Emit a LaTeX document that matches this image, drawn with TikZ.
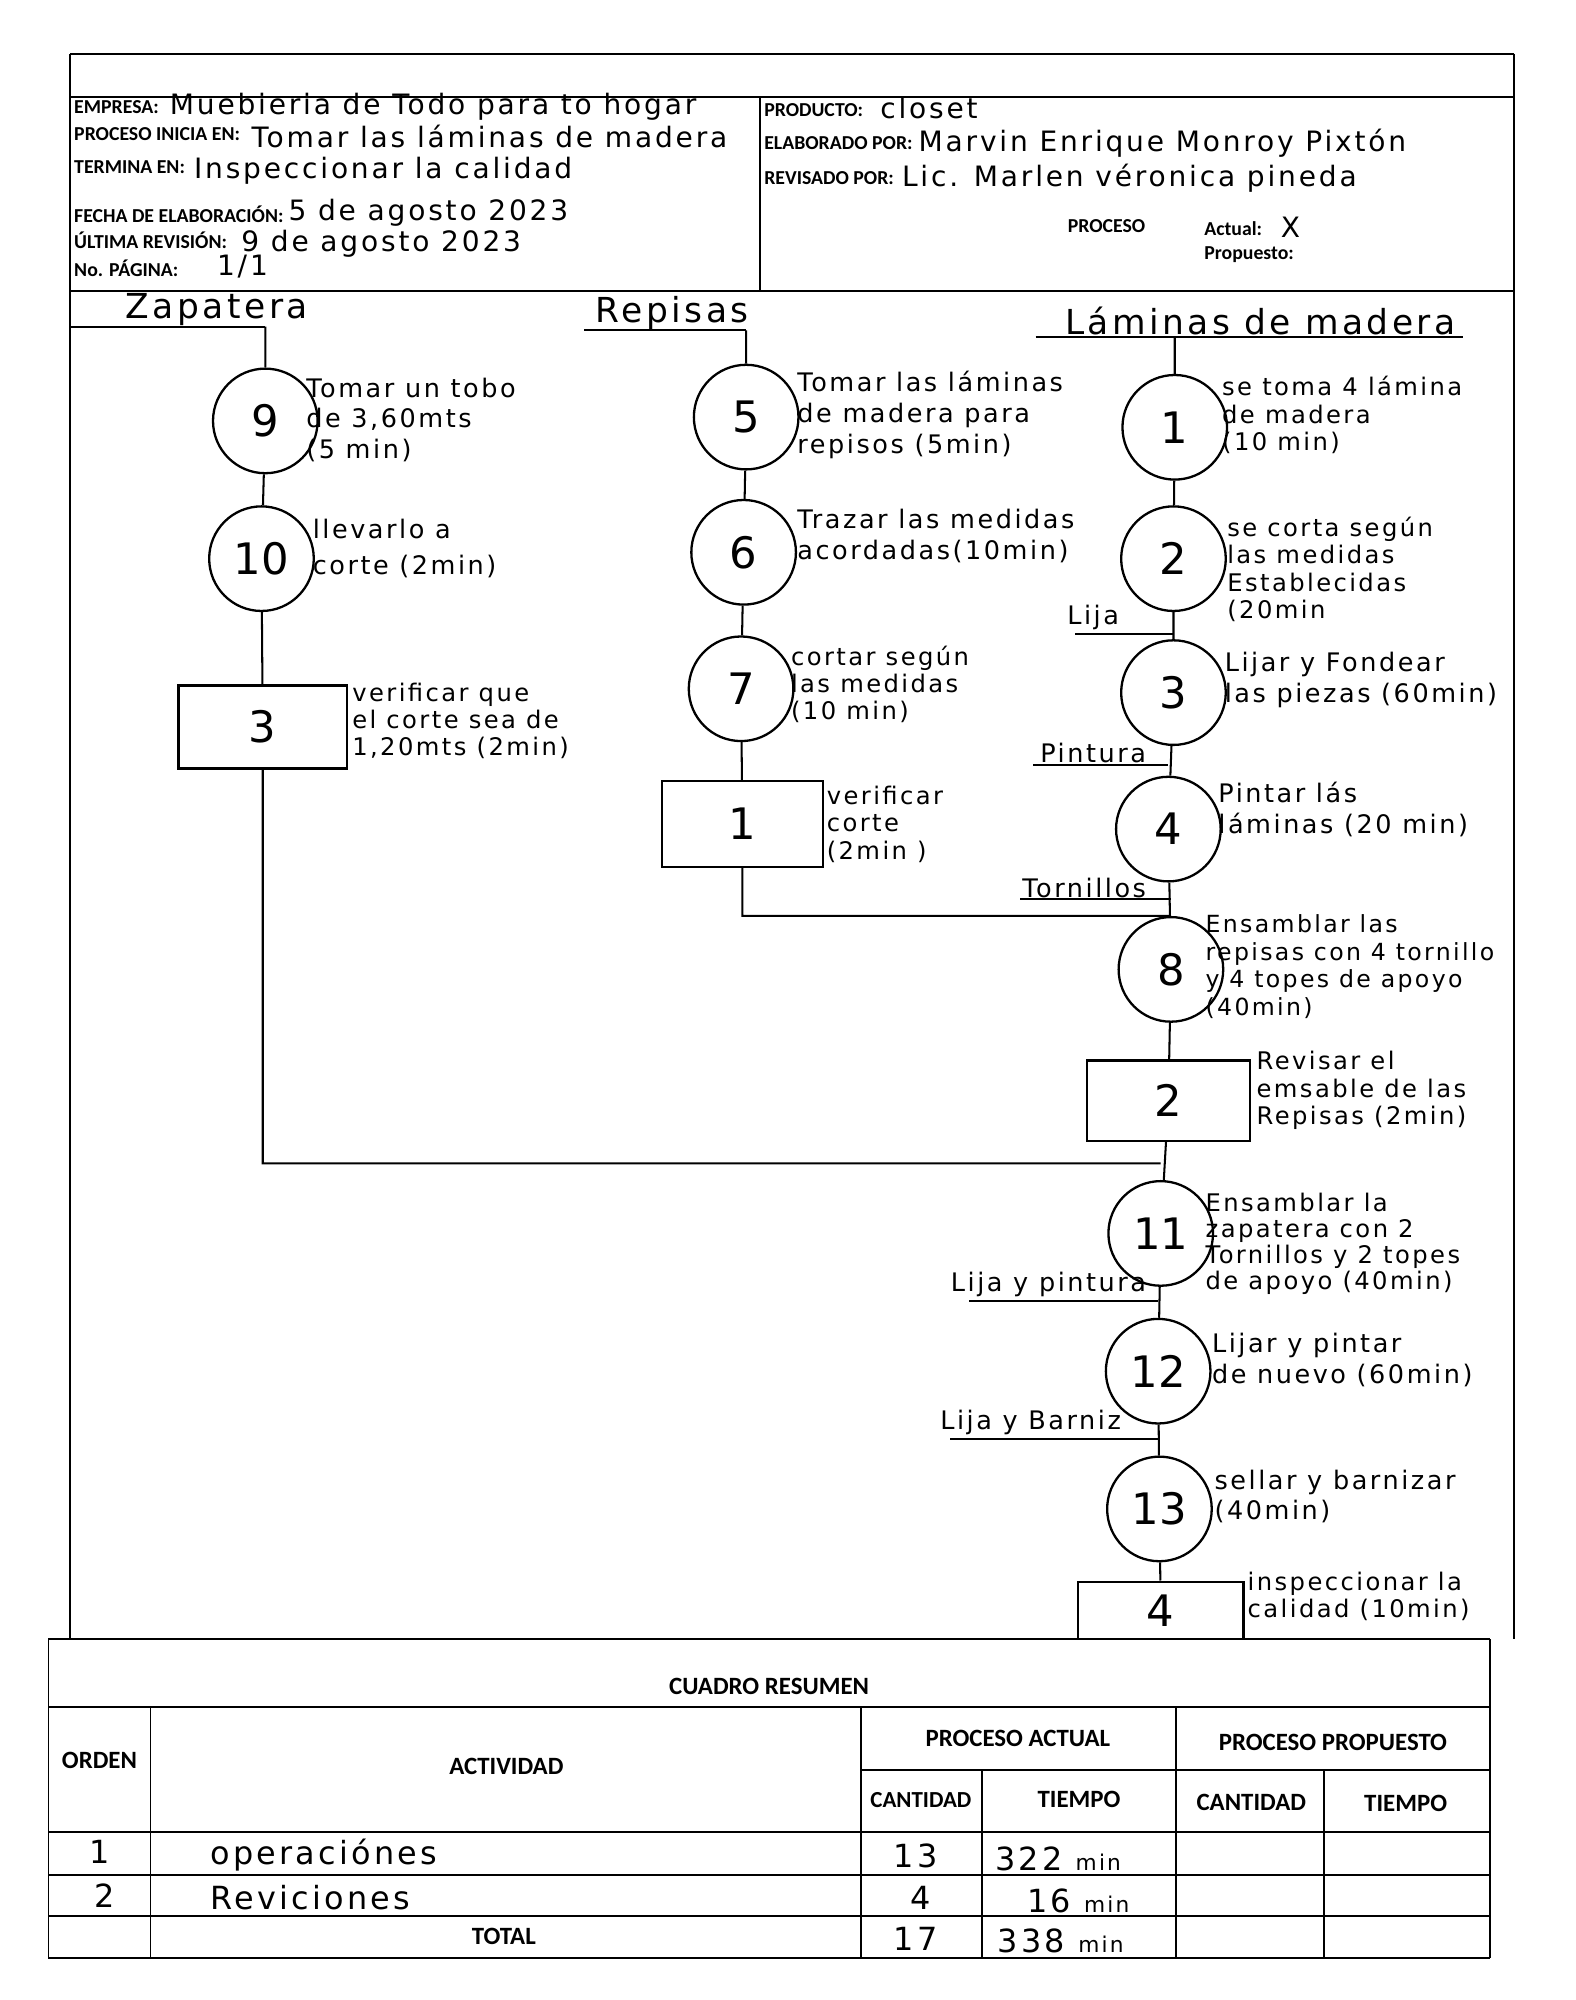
\documentclass[tikz,border=0pt]{standalone}
\usepackage{fontspec}
\setmainfont{DejaVu Sans}
\newfontfamily\hand{DejaVu Sans}[LetterSpace=10]
\newfontfamily\handn{DejaVu Sans}
\newfontfamily\prt{Carlito}
\begin{document}
\begin{tikzpicture}[x=1pt,y=-1pt,
 op/.style={circle,draw,line width=1.8pt,minimum size=82pt,inner sep=0pt,font=\handn\fontsize{34}{34}\selectfont},
 insp/.style={rectangle,draw,line width=1.8pt,inner sep=0pt,font=\handn\fontsize{34}{34}\selectfont},
 lab/.style={anchor=north west,align=left,inner sep=0pt,font=\hand\fontsize{20}{24}\selectfont},
 labt/.style={anchor=north west,align=left,inner sep=0pt,font=\hand\fontsize{19}{21.5}\selectfont},
 flow/.style={line width=1.6pt},
 hdr/.style={anchor=west,inner sep=0pt,font=\prt\bfseries\fontsize{15.5}{17}\selectfont},
 hw/.style={anchor=west,inner sep=0pt,font=\hand\fontsize{22}{24}\selectfont},
 mat/.style={inner sep=0pt,font=\hand\fontsize{20}{22}\selectfont},
 col/.style={inner sep=0pt,font=\hand\fontsize{27}{30}\selectfont},
 frm/.style={line width=1.5pt},
 tb/.style={inner sep=0pt,font=\prt\bfseries\fontsize{19.5}{21}\selectfont},
 tv/.style={inner sep=0pt,font=\hand\fontsize{25}{28}\selectfont},
]
\useasboundingbox (0,0) rectangle (1235,1568);
\fill[white] (0,0) rectangle (1235,1568);

% ---------- frame and header ----------
\draw[frm] (55,42) -- (1187,42);
\draw[frm] (55,76) -- (1187,76);
\draw[frm] (55,228) -- (1187,228);
\draw[frm] (596,76) -- (596,228);
\draw[frm] (55,42) -- (55,1285);
\draw[frm] (1187,42) -- (1187,1285);

\node[hdr] (hEmp) at (58,84) {EMPRESA:};
\node[hw] (vEmp) at (133,84) {Muebieria de Todo para to hogar};
\node[hdr] (hIni) at (58,105) {PROCESO INICIA EN:};
\node[hw] (vIni) at (197,107) {Tomar las láminas de madera};
\node[hdr] (hTer) at (58,131) {TERMINA EN:};
\node[hw] (vTer) at (152,134) {Inspeccionar la calidad};
\node[hdr] (hFec) at (58,168) {FECHA DE ELABORACIÓN:};
\node[hw] (vFec) at (226,167) {5 de agosto 2023};
\node[hdr] (hUlt) at (58,188) {ÚLTIMA REVISIÓN:};
\node[hw] (vUlt) at (189,191) {9 de agosto 2023};
\node[hdr] (hPag) at (58,210) {No. PÁGINA:};
\node[hw] (vPag) at (170,209) {1/1};

\node[hdr] (hPro) at (599,86) {PRODUCTO:};
\node[hw] (vPro) at (690,85) {closet};
\node[hdr] (hEla) at (599,112) {ELABORADO POR:};
\node[hw] (vEla) at (720,112) {Marvin Enrique Monroy Pixtón};
\node[hdr] (hRev) at (599,140) {REVISADO POR:};
\node[hw] (vRev) at (707,140) {Lic. Marlen véronica pineda};
\node[hdr] (hProc) at (837,177) {PROCESO};
\node[hdr] (hAct) at (944,179) {Actual:};
\node[hw] (vAct) at (1004,178) {X};
\node[hdr] (hProp) at (944,200) {Propuesto:};

% ---------- column heads ----------
\node[col] (tZap) at (170,243) {Zapatera};
\node[col] (tRep) at (527,245) {Repisas};
\node[col] (tLam) at (988,252) {Láminas de madera};
\coordinate (zapL) at (55,256);
\coordinate (zapTop) at (208,256);
\coordinate (repL) at (458,259);
\coordinate (repTop) at (585,259);
\coordinate (lamL) at (812,264);
\coordinate (lamR) at (1147,264);
\coordinate (lamTop) at (921,264);
\draw[flow] (zapL) -- (zapTop);
\draw[flow] (repL) -- (repTop);
\draw[flow] (lamL) -- (lamR);

% ---------- Zapatera column ----------
\node[op] (o9) at (208,330) {9};
\node[op] (o10) at (205,438) {10};
\node[insp,minimum width=132pt,minimum height=65pt] (i3) at (206,570) {3};
\node[lab] (l9) at (240,296) {Tomar un tobo\\de 3,60mts\\(5 min)};
\node[lab,font=\hand\fontsize{20}{28}\selectfont] (l10) at (245,407) {llevarlo a\\corte (2min)};
\node[labt] (l3) at (276,535) {verificar que\\el corte sea de\\1,20mts (2min)};

% ---------- Repisas column ----------
\node[op] (o5) at (585,327) {5};
\node[op] (o6) at (583,433) {6};
\node[op] (o7) at (581,540) {7};
\node[insp,minimum width=126pt,minimum height=67pt] (i1) at (582,646) {1};
\node[lab] (l5) at (625,291) {Tomar las láminas\\de madera para\\repisos (5min)};
\node[lab] (l6) at (625,399) {Trazar las medidas\\acordadas(10min)};
\node[labt] (l7) at (620,506) {cortar según\\las medidas\\(10 min)};
\node[labt] (l1i) at (648,616) {verificar\\corte\\(2min )};

% ---------- Laminas column ----------
\node[op] (o1) at (921,335) {1};
\node[op] (o2) at (920,438) {2};
\node[op] (o3) at (920,543) {3};
\node[op] (o4) at (916,650) {4};
\node[op] (o8) at (918,760) {8};
\node[insp,minimum width=128pt,minimum height=63pt] (i2) at (916,863) {2};
\node[op] (o11) at (910,967) {11};
\node[op] (o12) at (908,1075) {12};
\node[op] (o13) at (909,1183) {13};
\node[insp,minimum width=130pt,minimum height=45pt] (i4) at (910,1262.5) {4};

\node[labt] (l1) at (958,295) {se toma 4 lámina\\de madera\\(10 min)};
\node[labt] (l2) at (962,405) {se corta según\\las medidas\\Establecidas\\(20min};
\node[lab] (l3o) at (960,511) {Lijar y Fondear\\las piezas (60min)};
\node[lab] (l4) at (955,613) {Pintar lás\\láminas (20 min)};
\node[labt,font=\hand\fontsize{18.5}{21.5}\selectfont] (l8) at (945,717) {Ensamblar las\\repisas con 4 tornillo\\y 4 topes de apoyo\\(40min)};
\node[labt] (l2i) at (985,824) {Revisar el\\emsable de las\\Repisas (2min)};
\node[labt,font=\hand\fontsize{19}{20.5}\selectfont] (l11) at (945,935) {Ensamblar la\\zapatera con 2\\Tornillos y 2 topes\\de apoyo (40min)};
\node[lab] (l12) at (950,1045) {Lijar y pintar\\de nuevo (60min)};
\node[lab] (l13) at (952,1152) {sellar y barnizar\\(40min)};
\node[labt] (l4i) at (978,1232) {inspeccionar la\\calidad (10min)};

% material inputs
\node[mat] (mLija) at (857,484) {Lija};
\node[mat] (mPin) at (857,590) {Pintura};
\node[mat] (mTor) at (850,696) {Tornillos};
\node[mat] (mLP) at (822,1007) {Lija y pintura};
\node[mat] (mLB) at (808,1115) {Lija y Barniz};
\coordinate (sLija) at (843,497);
\coordinate (sPin) at (810,600);
\coordinate (sTor) at (800,705);
\coordinate (sLP) at (760,1020);
\coordinate (sLB) at (745,1128);
\draw[flow] (sLija) -- (sLija -| o3);
\draw[flow] (sPin) -- (sPin -| o4);
\draw[flow] (sTor) -- (sTor -| o8);
\draw[flow] (sLP) -- (sLP -| o12);
\draw[flow] (sLB) -- (sLB -| o13);

% ---------- flow lines ----------
\coordinate (zj) at (206,912);
\coordinate (rj) at (582,718);
\draw[flow] (zapTop) -- (o9) -- (o10) -- (i3) -- (zj) -- (zj -| o11);
\draw[flow] (repTop) -- (o5) -- (o6) -- (o7) -- (i1) -- (rj) -- (rj -| o8);
\draw[flow] (lamTop) -- (o1) -- (o2) -- (o3) -- (o4) -- (o8) -- (i2) -- (o11) -- (o12) -- (o13) -- (i4);

% ---------- summary table ----------
\draw[frm] (38,1285) -- (1168,1285);
\draw[frm] (38,1338) -- (1168,1338);
\draw[frm] (675,1388) -- (1168,1388);
\draw[frm] (38,1436) -- (1168,1436);
\draw[frm] (38,1470) -- (1168,1470);
\draw[frm] (38,1502) -- (1168,1502);
\draw[frm] (38,1535) -- (1168,1535);
\draw[frm] (38,1285) -- (38,1535);
\draw[frm] (1168,1285) -- (1168,1535);
\draw[frm] (118,1338) -- (118,1535);
\draw[frm] (675,1338) -- (675,1535);
\draw[frm] (922,1338) -- (922,1535);
\draw[frm] (770,1388) -- (770,1535);
\draw[frm] (1038,1388) -- (1038,1535);

\node[tb] (tCua) at (603,1322) {CUADRO RESUMEN};
\node[tb] (tOrd) at (78,1380) {ORDEN};
\node[tb] (tActv) at (397,1385) {ACTIVIDAD};
\node[tb] (tPA) at (798,1363) {PROCESO ACTUAL};
\node[tb] (tPP) at (1045,1366) {PROCESO PROPUESTO};
\node[tb,font=\prt\bfseries\fontsize{18}{20}\selectfont] (tC1) at (722,1411) {CANTIDAD};
\node[tb] (tT1) at (846,1411) {TIEMPO};
\node[tb] (tC2) at (981,1413) {CANTIDAD};
\node[tb] (tT2) at (1102,1414) {TIEMPO};
\node[tb] (tTot) at (395,1518) {TOTAL};

\node[tv] (r1n) at (78,1452) {1};
\node[tv,anchor=west] (r1a) at (165,1454) {operaciónes};
\node[tv] (r1c) at (718,1455) {13};
\node[tv,anchor=west] (r1t) at (780,1457) {322 {\fontsize{17}{17}\selectfont min}};
\node[tv] (r2n) at (82,1486) {2};
\node[tv,anchor=west] (r2a) at (165,1488) {Reviciones};
\node[tv] (r2c) at (722,1488) {4};
\node[tv,anchor=west] (r2t) at (805,1490) {16 {\fontsize{17}{17}\selectfont min}};
\node[tv] (r3c) at (718,1520) {17};
\node[tv,anchor=west] (r3t) at (782,1522) {338 {\fontsize{17}{17}\selectfont min}};
\end{tikzpicture}
\end{document}
